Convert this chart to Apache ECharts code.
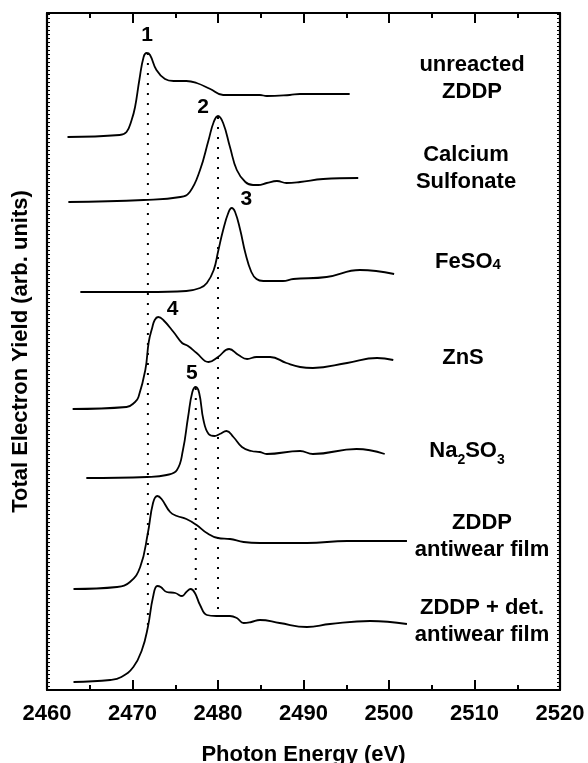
<!DOCTYPE html>
<html>
<head>
<meta charset="utf-8">
<title>S K-edge XANES</title>
<script src="https://cdn.jsdelivr.net/npm/echarts@6/dist/echarts.min.js"></script>
<style>
  html, body { margin: 0; padding: 0; background: #fff; }
  #chart { width: 588px; height: 763px; }
</style>
</head>
<body>
<div id="chart"></div>
<script>
// Photon energy axis (eV)
const energyTicks = [2460, 2470, 2480, 2490, 2500, 2510, 2520];

// Offset spectra, [photon energy (eV), total electron yield (arb. units)]
const unreactedZDDP = [
  [2462.4, 553], [2468.5, 555], [2469.3, 558], [2469.9, 570], [2470.3, 583],
  [2470.8, 610], [2471.3, 633], [2471.66, 637], [2472.05, 635], [2472.8, 620],
  [2473.8, 611], [2474.8, 609], [2476.3, 609], [2477.5, 607], [2479.1, 601],
  [2480.6, 595], [2482.6, 595], [2484.9, 595], [2485.7, 594], [2488.4, 595],
  [2489.6, 596], [2495.4, 596]
];
const calciumSulfonate = [
  [2462.5, 488], [2471.3, 490], [2475.6, 493], [2476.7, 498], [2477.9, 520],
  [2478.9, 550], [2479.5, 568], [2480.0, 574], [2480.6, 567], [2481.4, 543],
  [2482.2, 520], [2483.2, 508], [2484.1, 505], [2484.7, 505], [2485.7, 507],
  [2486.9, 509], [2488.0, 507], [2489.6, 508], [2492.3, 511], [2496.4, 512]
];
const feSO4 = [
  [2463.9, 398], [2471.7, 398], [2476.3, 399], [2477.9, 402], [2478.7, 407],
  [2479.5, 420], [2480.0, 438], [2480.6, 460], [2481.2, 477], [2481.6, 482],
  [2482.0, 478], [2482.6, 460], [2483.2, 437], [2483.9, 418], [2484.5, 411],
  [2485.3, 409], [2487.6, 409], [2488.8, 411], [2492.7, 413], [2496.6, 420],
  [2500.6, 416]
];
const znS = [
  [2463.0, 281], [2469.3, 283], [2470.3, 288], [2470.7, 293], [2471.5, 320],
  [2471.9, 348], [2472.3, 362], [2472.6, 370], [2473.0, 373], [2473.6, 370],
  [2474.8, 358], [2475.8, 347], [2476.5, 344], [2477.5, 337], [2478.9, 328],
  [2480.0, 333], [2481.3, 341], [2482.4, 335], [2483.4, 331], [2484.5, 333],
  [2486.1, 333], [2488.0, 327], [2489.6, 323], [2491.1, 322], [2495.1, 327],
  [2498.6, 332], [2500.5, 330]
];
const na2SO3 = [
  [2464.6, 212], [2471.7, 213], [2474.0, 215], [2475.2, 220], [2475.9, 240],
  [2476.5, 273], [2477.0, 298], [2477.4, 303], [2477.8, 297], [2478.3, 270],
  [2478.9, 256], [2479.6, 254], [2480.2, 256], [2481.0, 259], [2481.8, 253],
  [2482.8, 243], [2483.9, 239], [2484.9, 238], [2485.7, 236], [2489.6, 239],
  [2491.1, 236], [2496.2, 241], [2499.5, 236]
];
const zddpFilm = [
  [2463.1, 101], [2468.2, 103], [2469.7, 108], [2470.9, 123], [2471.8, 157],
  [2472.4, 187], [2472.9, 194], [2473.4, 191], [2474.4, 178], [2475.2, 174],
  [2476.3, 171], [2477.5, 165], [2478.7, 157], [2480.0, 152], [2481.4, 151],
  [2483.0, 148], [2484.9, 147], [2487.2, 147], [2490.4, 147], [2495.1, 149],
  [2502.1, 149]
];
const zddpDetFilm = [
  [2463.1, 8], [2467.4, 10], [2468.7, 13], [2470.1, 23], [2471.1, 40],
  [2471.8, 63], [2472.4, 93], [2472.9, 104], [2473.3, 103], [2474.0, 98],
  [2475.0, 97], [2475.8, 94], [2476.3, 98], [2476.8, 101], [2477.3, 97],
  [2477.9, 85], [2478.7, 75], [2479.8, 74], [2481.4, 74], [2482.2, 72],
  [2483.0, 67], [2483.9, 68], [2484.9, 70], [2487.2, 67], [2490.4, 63],
  [2493.1, 66], [2497.8, 69], [2502.1, 66]
];

// Reference energies of features 1, 2 and 5 (dotted guides) and their extents
const guideEnergies = [2471.8, 2480.0, 2477.4];
const guideTop = [637, 573, 302];
const guideBottom = [60, 78, 100];

// Feature numbers and where they are printed
const peakNames = ['1', '2', '3', '4', '5'];
const peakLabelPos = [
  [2471.7, 655], [2478.25, 583], [2483.3, 491], [2474.7, 381], [2476.95, 317]
];

const spectra = [unreactedZDDP, calciumSulfonate, feSO4, znS, na2SO3, zddpFilm, zddpDetFilm];

const FONT = '"Liberation Sans", Arial, Helvetica, sans-serif';
const chart = echarts.init(document.getElementById('chart'), null, { renderer: 'canvas' });

const xAxisBase = {
  type: 'value',
  min: energyTicks[0],
  max: energyTicks[energyTicks.length - 1],
  interval: 10,
  axisLine: { show: true, onZero: false, lineStyle: { color: '#000', width: 2.2 } },
  axisTick: { show: true, inside: true, length: 10, lineStyle: { color: '#000', width: 2 } },
  minorTick: { show: true, splitNumber: 2, length: 5, lineStyle: { color: '#000', width: 2 } },
  splitLine: { show: false }
};
const yAxisBase = {
  type: 'value',
  min: 0,
  max: 677,
  interval: 4,
  axisLine: { show: true, onZero: false, lineStyle: { color: '#000', width: 2.2 } },
  axisTick: { show: true, inside: true, length: 3, lineStyle: { color: '#000', width: 1 } },
  axisLabel: { show: false },
  splitLine: { show: false }
};

const series = spectra.map(function (d) {
  return {
    type: 'line',
    data: d,
    xAxisIndex: 0,
    yAxisIndex: 0,
    showSymbol: false,
    smooth: 0.45,
    lineStyle: { color: '#000', width: 1.8, join: 'round' },
    silent: true,
    z: 3
  };
});

guideEnergies.forEach(function (e, i) {
  series.push({
    type: 'line',
    data: [[e, guideTop[i]], [e, guideBottom[i]]],
    showSymbol: false,
    lineStyle: { color: '#000', width: 2, type: [2, 8], cap: 'butt' },
    silent: true,
    z: 2
  });
});

series.push({
  type: 'scatter',
  data: peakLabelPos.map(function (p, i) { return { value: p, name: peakNames[i] }; }),
  symbolSize: 0,
  silent: true,
  itemStyle: { color: '#000', opacity: 1 },
  label: {
    show: true,
    position: 'inside',
    formatter: '{b}',
    color: '#000',
    opacity: 1,
    textBorderWidth: 0,
    fontFamily: FONT,
    fontWeight: 'bold',
    fontSize: 21
  }
});

const labelStyle = {
  fill: '#000',
  font: 'bold 22px ' + FONT,
  align: 'center',
  verticalAlign: 'middle'
};
function sampleText(x, y, text, extra) {
  return {
    type: 'text',
    x: x,
    y: y,
    silent: true,
    style: Object.assign({}, labelStyle, { text: text, lineHeight: 27 }, extra || {})
  };
}

const option = {
  backgroundColor: '#fff',
  animation: false,
  grid: { left: 47, right: 28, top: 13, bottom: 73, containLabel: false, outerBoundsMode: 'none' },
  xAxis: [
    Object.assign({}, xAxisBase, {
      position: 'bottom',
      name: 'Photon Energy (eV)',
      nameLocation: 'middle',
      nameGap: 54,
      nameTextStyle: { color: '#000', fontFamily: FONT, fontWeight: 'bold', fontSize: 22 },
      axisLabel: {
        show: true, margin: 13, color: '#000', fontFamily: FONT, fontWeight: 'bold', fontSize: 22,
        formatter: function (v) { return String(v); }
      }
    }),
    Object.assign({}, xAxisBase, { position: 'top', axisLabel: { show: false } })
  ],
  yAxis: [
    Object.assign({}, yAxisBase, {
      position: 'left',
      name: 'Total Electron Yield (arb. units)',
      nameLocation: 'middle',
      nameGap: 15,
      nameTextStyle: { color: '#000', fontFamily: FONT, fontWeight: 'bold', fontSize: 22 }
    }),
    Object.assign({}, yAxisBase, { position: 'right' })
  ],
  series: series,
  graphic: [
    sampleText(472, 78, 'unreacted\nZDDP'),
    sampleText(466, 168, 'Calcium\nSulfonate'),
    sampleText(468, 262, '{m|FeSO}{s|4}', {
      rich: {
        m: { font: 'bold 22px ' + FONT, fill: '#000' },
        s: { font: 'bold 15px ' + FONT, fill: '#000', padding: [6, 0, 0, 0] }
      }
    }),
    sampleText(463, 358, 'ZnS'),
    sampleText(467, 451, '{m|Na}{s|2}{m|SO}{s|3}', {
      rich: {
        m: { font: 'bold 22px ' + FONT, fill: '#000' },
        s: { font: 'bold 14px ' + FONT, fill: '#000', padding: [18, 0, 0, 0] }
      }
    }),
    sampleText(482, 536, 'ZDDP\nantiwear film'),
    sampleText(482, 621, 'ZDDP + det.\nantiwear film')
  ]
};

chart.setOption(option);
</script>
</body>
</html>
